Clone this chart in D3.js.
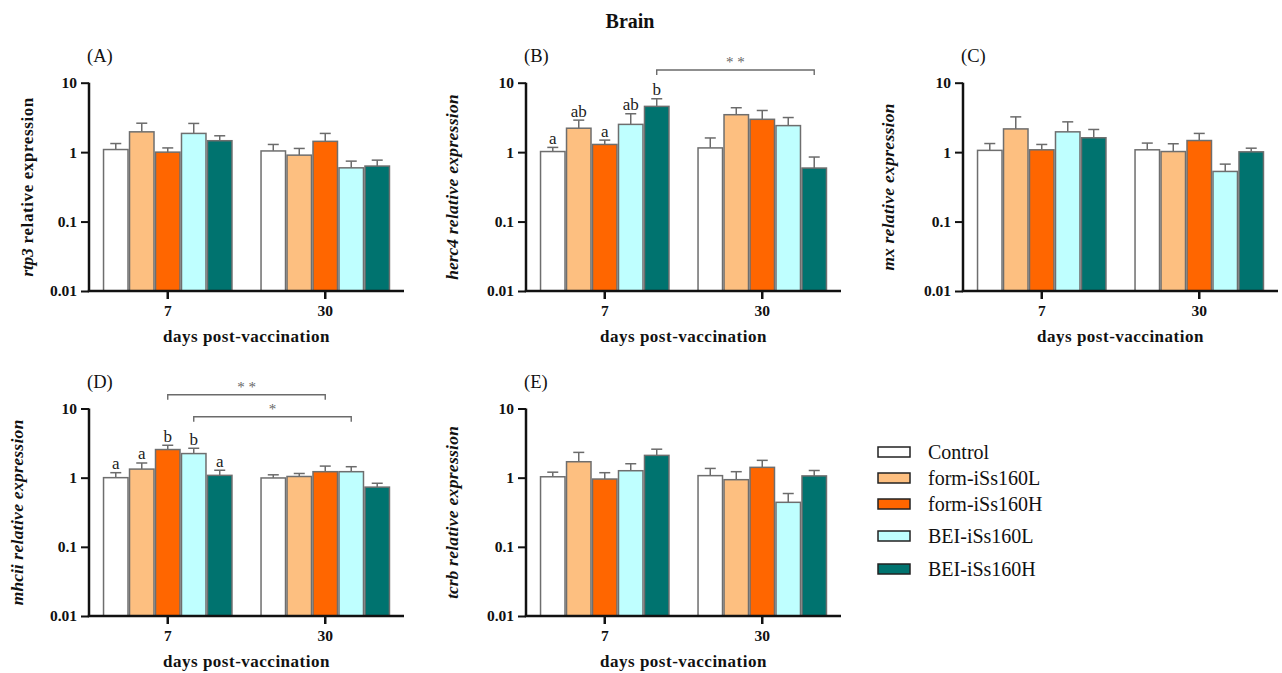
<!DOCTYPE html>
<html>
<head>
<meta charset="utf-8">
<script src="https://cdn.jsdelivr.net/npm/d3@7"></script>
<style>
  html, body { margin: 0; padding: 0; background: #fff; }
  svg { display: block; font-family: "Liberation Serif", "Times New Roman", serif; }
</style>
</head>
<body>
<svg id="chart" width="1282" height="673"></svg>
<script>
// ---------- data ----------
const categories = ["7", "30"];
const seriesNames = ["Control", "form-iSs160L", "form-iSs160H", "BEI-iSs160L", "BEI-iSs160H"];
const seriesColors = ["#ffffff", "#fdbf80", "#ff6600", "#bfffff", "#00736f"];
const yTickValues = [0.01, 0.1, 1, 10];
const yTickLabels = ["0.01", "0.1", "1", "10"];

// mean relative expression per series order, and SEM (upper error)
const rtp3Day7 = [1.09, 1.96, 1.00, 1.86, 1.46];
const rtp3Day30 = [1.04, 0.905, 1.43, 0.594, 0.63];
const rtp3Err7 = [0.24, 0.65, 0.15, 0.73, 0.26];
const rtp3Err30 = [0.25, 0.225, 0.43, 0.148, 0.137];

const herc4Day7 = [1.02, 2.21, 1.29, 2.51, 4.56];
const herc4Day30 = [1.15, 3.46, 2.97, 2.41, 0.59];
const herc4Err7 = [0.15, 0.68, 0.20, 1.06, 1.31];
const herc4Err30 = [0.45, 0.90, 1.01, 0.74, 0.26];
const herc4Letters7 = ["a", "ab", "a", "ab", "b"];

const mxDay7 = [1.06, 2.16, 1.08, 1.96, 1.61];
const mxDay30 = [1.08, 1.02, 1.47, 0.527, 1.01];
const mxErr7 = [0.27, 1.06, 0.21, 0.77, 0.51];
const mxErr30 = [0.27, 0.30, 0.39, 0.145, 0.13];

const mhciiDay7 = [1.00, 1.33, 2.55, 2.23, 1.08];
const mhciiDay30 = [0.99, 1.04, 1.22, 1.22, 0.73];
const mhciiErr7 = [0.18, 0.30, 0.39, 0.43, 0.20];
const mhciiErr30 = [0.11, 0.11, 0.25, 0.22, 0.10];
const mhciiLetters7 = ["a", "a", "b", "b", "a"];

const tcrbDay7 = [1.03, 1.70, 0.955, 1.26, 2.10];
const tcrbDay30 = [1.07, 0.935, 1.41, 0.44, 1.06];
const tcrbErr7 = [0.17, 0.62, 0.225, 0.33, 0.48];
const tcrbErr30 = [0.29, 0.285, 0.37, 0.15, 0.21];

// ---------- layout ----------
const svg = d3.select("#chart");
const plotW = 315;

const panels = [
  { id: "(A)", gene: "rtp3", italicAll: false, x0: 89, top: 82.7, bottom: 291, titleOff: 62,
    day7: rtp3Day7, day30: rtp3Day30, err7: rtp3Err7, err30: rtp3Err30, letters: null, brackets: [] },
  { id: "(B)", gene: "herc4", italicAll: true, x0: 526, top: 82.7, bottom: 291, titleOff: 74,
    day7: herc4Day7, day30: herc4Day30, err7: herc4Err7, err30: herc4Err30, letters: herc4Letters7,
    brackets: [{ s: 4, dy: -12.7, label: "* *" }] },
  { id: "(C)", gene: "mx", italicAll: true, x0: 963, top: 82.7, bottom: 291, titleOff: 75,
    day7: mxDay7, day30: mxDay30, err7: mxErr7, err30: mxErr30, letters: null, brackets: [] },
  { id: "(D)", gene: "mhcii", italicAll: true, x0: 89, top: 408.5, bottom: 616, titleOff: 72,
    day7: mhciiDay7, day30: mhciiDay30, err7: mhciiErr7, err30: mhciiErr30, letters: mhciiLetters7,
    brackets: [{ s: 2, dy: -13.8, label: "* *" }, { s: 3, dy: 8.2, label: "*" }] },
  { id: "(E)", gene: "tcrb", italicAll: true, x0: 526, top: 408.5, bottom: 616, titleOff: 74,
    day7: tcrbDay7, day30: tcrbDay30, err7: tcrbErr7, err30: tcrbErr30, letters: null, brackets: [] }
];

// title
svg.append("text").attr("x", 630).attr("y", 28).attr("text-anchor", "middle")
  .attr("font-size", 20).attr("font-weight", "bold").attr("fill", "#111").text("Brain");

panels.forEach(p => {
  const g = svg.append("g");
  const x = d3.scaleBand().domain(categories).range([p.x0, p.x0 + plotW])
    .paddingInner(0.175).paddingOuter(0.0875);
  const xs = d3.scaleBand().domain(seriesNames).range([0, x.bandwidth()]).padding(0);
  const y = d3.scaleLog().domain([0.01, 10]).range([p.bottom, p.top]);

  const rows = [];
  categories.forEach((c, ci) => {
    const vals = ci === 0 ? p.day7 : p.day30;
    const errs = ci === 0 ? p.err7 : p.err30;
    seriesNames.forEach((s, si) => rows.push({ c, s, si, v: vals[si], e: errs[si] }));
  });

  // error bars (up only)
  const eg = g.append("g").attr("stroke", "#6b6b6b").attr("stroke-width", 1.5);
  rows.forEach(d => {
    const cx = x(d.c) + xs(d.s) + xs.bandwidth() / 2;
    eg.append("line").attr("x1", cx).attr("x2", cx).attr("y1", y(d.v)).attr("y2", y(d.v + d.e));
    eg.append("line").attr("x1", cx - 5.5).attr("x2", cx + 5.5).attr("y1", y(d.v + d.e)).attr("y2", y(d.v + d.e));
  });

  // bars
  g.append("g").selectAll("rect").data(rows).join("rect")
    .attr("x", d => x(d.c) + xs(d.s) + 0.75)
    .attr("width", xs.bandwidth() - 1.5)
    .attr("y", d => y(d.v))
    .attr("height", d => y(0.01) - y(d.v))
    .attr("fill", d => seriesColors[d.si])
    .attr("stroke", "#6e6e6e").attr("stroke-width", 1.5);

  // letters
  if (p.letters) {
    rows.filter(d => d.c === "7").forEach(d => {
      g.append("text").attr("x", x(d.c) + xs(d.s) + xs.bandwidth() / 2)
        .attr("y", y(d.v + d.e) - 3.5).attr("text-anchor", "middle")
        .attr("font-size", 17).attr("fill", "#222").text(p.letters[d.si]);
    });
  }

  // brackets
  p.brackets.forEach(b => {
    const s = seriesNames[b.s];
    const xa = x("7") + xs(s) + xs.bandwidth() / 2;
    const xb = x("30") + xs(s) + xs.bandwidth() / 2;
    const by = p.top + b.dy;
    const bg = g.append("g").attr("stroke", "#6b6b6b").attr("stroke-width", 1.4).attr("fill", "none");
    bg.append("path").attr("d", `M${xa},${by + 5}V${by}H${xb}V${by + 5}`);
    g.append("text").attr("x", (xa + xb) / 2).attr("y", by - 3).attr("text-anchor", "middle")
      .attr("font-size", 15).attr("fill", "#666").text(b.label);
  });

  // y axis
  const yAxis = d3.axisLeft(y).tickValues(yTickValues)
    .tickFormat((d, i) => yTickLabels[i]).tickSize(8).tickPadding(4);
  const ya = g.append("g").attr("transform", `translate(${p.x0},0)`).call(yAxis);
  ya.select(".domain").attr("stroke", "#111").attr("stroke-width", 2.5)
    .attr("d", `M0,${p.top}V${p.bottom}`);
  ya.selectAll(".tick line").attr("stroke", "#111").attr("stroke-width", 2);
  ya.selectAll(".tick text").attr("font-family", "Liberation Serif, serif")
    .attr("font-size", 15.5).attr("font-weight", "bold").attr("fill", "#111");

  // x axis
  const xAxis = d3.axisBottom(x).tickSize(8).tickPadding(6);
  const xa = g.append("g").attr("transform", `translate(0,${p.bottom})`).call(xAxis);
  xa.select(".domain").attr("stroke", "#111").attr("stroke-width", 2.5)
    .attr("d", `M${p.x0 - 1.2},0H${p.x0 + plotW}`);
  xa.selectAll(".tick line").attr("stroke", "#111").attr("stroke-width", 2.5);
  xa.selectAll(".tick text").attr("font-family", "Liberation Serif, serif")
    .attr("font-size", 15.5).attr("font-weight", "bold").attr("fill", "#111");

  // x title
  g.append("text").attr("x", p.x0 + plotW / 2).attr("y", p.bottom + 51)
    .attr("text-anchor", "middle").attr("font-size", 17).attr("font-weight", "bold")
    .attr("letter-spacing", 0.5).attr("fill", "#111").text("days post-vaccination");

  // y title
  const my = (p.top + p.bottom) / 2;
  const yt = g.append("text").attr("transform", `translate(${p.x0 - p.titleOff},${my}) rotate(-90)`)
    .attr("text-anchor", "middle").attr("dominant-baseline", "central")
    .attr("font-size", p.italicAll ? 17.5 : 17).attr("font-weight", "bold").attr("fill", "#111");
  yt.append("tspan").attr("font-style", "italic").text(p.gene);
  yt.append("tspan").attr("font-style", p.italicAll ? "italic" : "normal")
    .attr("letter-spacing", p.italicAll ? 0.3 : 0.6).text(" relative expression");

  // panel label
  svg.append("text").attr("x", p.x0 - 2).attr("y", p.top - 21).attr("font-size", 18.5)
    .attr("fill", "#111").text(p.id);
});

// legend
const legendY = [452, 478, 504, 536, 569];
const lg = svg.append("g");
seriesNames.forEach((s, i) => {
  lg.append("rect").attr("x", 878).attr("y", legendY[i] - 5).attr("width", 32).attr("height", 10)
    .attr("fill", seriesColors[i]).attr("stroke", "#222").attr("stroke-width", 1.5);
  lg.append("text").attr("x", 928).attr("y", legendY[i]).attr("dominant-baseline", "central")
    .attr("font-size", 20).attr("fill", "#111").text(s);
});
</script>
</body>
</html>
